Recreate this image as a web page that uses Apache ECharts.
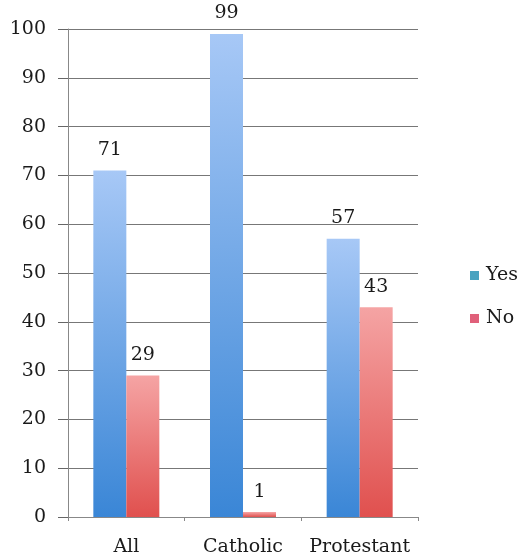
<!DOCTYPE html>
<html>
<head>
<meta charset="utf-8">
<script src="https://cdn.jsdelivr.net/npm/echarts@6/dist/echarts.min.js"></script>
<style>
  html, body { margin: 0; padding: 0; background: #fff; }
  #main { width: 521px; height: 560px; }
</style>
</head>
<body>
<div id="main"></div>
<script>
// data
var categories = ['All', 'Catholic', 'Protestant'];
var yesValues = [71, 99, 57];
var noValues = [29, 1, 43];
var seriesNames = ['Yes', 'No'];

var font = 'DejaVu Serif';
var fsize = 19;

function grad(top, bottom) {
    return new echarts.graphic.LinearGradient(0, 0, 0, 1, [
        { offset: 0, color: top },
        { offset: 1, color: bottom }
    ]);
}

var myChart = echarts.init(document.getElementById('main'));
var option = {
    backgroundColor: '#fff',
    animation: false,
    textStyle: { fontFamily: font },
    grid: { left: 68, top: 29, right: 103, bottom: 43 },
    legend: {
        orient: 'vertical',
        left: 465,
        top: 261,
        itemWidth: 9,
        itemHeight: 9,
        itemGap: 24,
        icon: 'rect',
        textStyle: { fontFamily: font, fontSize: fsize, color: '#1a1a1a', padding: [0, 0, 0, 2] },
        data: [
            { name: 'Yes', itemStyle: { color: '#4aa3c0' } },
            { name: 'No', itemStyle: { color: '#e0607a' } }
        ]
    },
    xAxis: {
        type: 'category',
        data: categories,
        axisLine: { lineStyle: { color: '#888' } },
        axisTick: { show: true, length: 4, lineStyle: { color: '#888' } },
        axisLabel: { interval: 0, fontFamily: font, fontSize: fsize, color: '#1a1a1a', margin: 21 }
    },
    yAxis: {
        type: 'value',
        min: 0,
        max: 100,
        interval: 10,
        axisLine: { show: true, lineStyle: { color: '#888' } },
        axisTick: { show: true, length: 10, lineStyle: { color: '#666' } },
        axisLabel: { fontFamily: font, fontSize: fsize, color: '#1a1a1a', margin: 22 },
        splitLine: { lineStyle: { color: '#777', width: 1 } }
    },
    series: [
        {
            name: seriesNames[0],
            type: 'bar',
            data: yesValues,
            barWidth: 33,
            barGap: '0%',
            itemStyle: { color: grad('#a7c8f6', '#3a86d6') },
            label: {
                show: true, position: 'top', distance: 11,
                fontFamily: font, fontSize: fsize, color: '#1a1a1a'
            }
        },
        {
            name: seriesNames[1],
            type: 'bar',
            data: noValues,
            barWidth: 33,
            barGap: '0%',
            itemStyle: { color: grad('#f5a4a4', '#e0504e') },
            label: {
                show: true, position: 'top', distance: 11,
                fontFamily: font, fontSize: fsize, color: '#1a1a1a'
            }
        }
    ]
};
myChart.setOption(option);
</script>
</body>
</html>
